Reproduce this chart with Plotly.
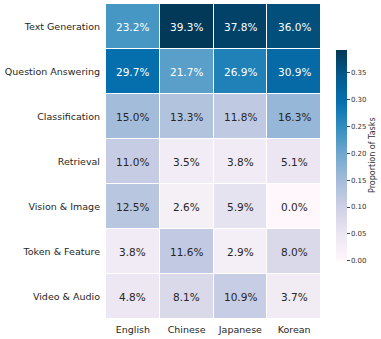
import plotly.graph_objects as go
import numpy as np

# Task categories (rows) and languages (columns)
tasks = ["Text Generation", "Question Answering", "Classification", "Retrieval",
         "Vision & Image", "Token & Feature", "Video & Audio"]
languages = ["English", "Chinese", "Japanese", "Korean"]

# proportion of tasks, in percent
english = [23.2, 29.7, 15.0, 11.0, 12.5, 3.8, 4.8]
chinese = [39.3, 21.7, 13.3, 3.5, 2.6, 11.6, 8.1]
japanese = [37.8, 26.9, 11.8, 3.8, 5.9, 2.9, 10.9]
korean = [36.0, 30.9, 16.3, 5.1, 0.0, 8.0, 3.7]

z = np.array([english, chinese, japanese, korean]).T / 100.0
text = [[f"{v * 100:.1f}%" for v in row] for row in z]

fig = go.Figure(go.Heatmap(
    z=z,
    x=languages,
    y=tasks,
    colorscale="PuBu",
    zmin=0,
    zmax=z.max(),
    xgap=1,
    ygap=1,
    showscale=True,
    colorbar=dict(
        thickness=11,
        len=0.67,
        lenmode="fraction",
        x=1.065,
        xanchor="left",
        y=0.52,
        yanchor="middle",
        xpad=0,
        ypad=0,
        outlinewidth=0,
        ticks="outside",
        ticklen=3,
        tickwidth=0.8,
        tickcolor="#444",
        tickvals=[0, 0.05, 0.10, 0.15, 0.20, 0.25, 0.30, 0.35],
        tickformat=".2f",
        tickfont=dict(size=7, color="#333"),
        title=dict(text="Proportion of Tasks", side="right", font=dict(size=8, color="#333")),
    ),
    hoverinfo="skip",
))

# cell annotations, white on dark cells
for i, task in enumerate(tasks):
    for j, lang in enumerate(languages):
        v = z[i, j]
        fig.add_annotation(
            x=lang, y=task, text=text[i][j], showarrow=False,
            font=dict(size=10.5, color="white" if v > 0.2 else "#262626",
                      family="DejaVu Sans"),
        )

fig.update_layout(
    width=381,
    height=339,
    margin=dict(l=106, r=59, t=4, b=20),
    paper_bgcolor="white",
    plot_bgcolor="white",
    font=dict(family="DejaVu Sans", color="#262626"),
    xaxis=dict(showgrid=False, zeroline=False, ticks="", tickfont=dict(size=9.5),
               ticklabelstandoff=3, automargin=False),
    yaxis=dict(showgrid=False, zeroline=False, ticks="", autorange="reversed",
               tickfont=dict(size=9.5), ticklabelstandoff=5, automargin=False),
)

# drop the browser's default page margin so the figure sits at the window corner
fig.write_html("out.html", config={"displayModeBar": False},
               post_script="document.body.style.margin='0';")
